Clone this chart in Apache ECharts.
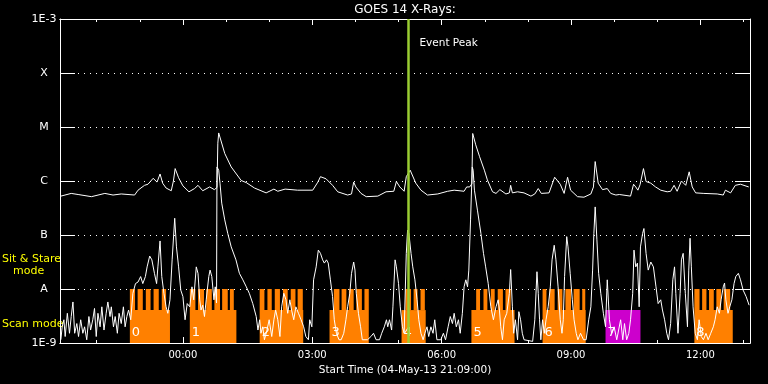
<!DOCTYPE html>
<html><head><meta charset="utf-8">
<script src="https://cdn.jsdelivr.net/npm/echarts@6/dist/echarts.min.js"></script>
<style>html,body{margin:0;padding:0;background:#000;}#c{width:768px;height:384px;}</style>
</head><body><div id="c"></div>
<script>
// ---------- data ----------
const titleText = 'GOES 14 X-Rays:';
const xAxisTitle = 'Start Time (04-May-13 21:09:00)';
const timeRange = [-2.85, 13.15];            // hours relative to 05-May-13 00:00
const majorHours = [0, 3, 6, 9, 12];
const majorLabels = ['00:00', '03:00', '06:00', '09:00', '12:00'];
const minorHours = [-2, -1, 1, 2, 4, 5, 7, 8, 10, 11, 13];
const fluxLevels = [-9, -8, -7, -6, -5, -4, -3];   // log10 of W/m^2
const fluxLabels = ['1E-9', 'A', 'B', 'C', 'M', 'X', '1E-3'];
const eventPeak = 5.23;
const eventLabel = 'Event Peak';
const modeLabels = ['Sit & Stare', 'mode', 'Scan mode'];

// GOES long channel (1-8 A): [hour, log10 flux]
const longFlux = [[-2.83,-6.28],[-2.59,-6.23],[-2.43,-6.25],[-2.12,-6.29],[-1.81,-6.23],[-1.62,-6.26],[-1.43,-6.24],[-1.12,-6.26],[-1.04,-6.17],[-0.89,-6.08],[-0.81,-6.06],[-0.69,-5.95],[-0.60,-6.02],[-0.53,-5.87],[-0.47,-6.04],[-0.39,-6.13],[-0.27,-6.18],[-0.22,-6.00],[-0.18,-5.77],[-0.10,-5.94],[0,-6.09],[0.14,-6.20],[0.27,-6.14],[0.35,-6.08],[0.46,-6.18],[0.62,-6.11],[0.73,-6.16],[0.79,-6.12],[0.81,-5.30],[0.83,-5.11],[0.86,-5.12],[0.97,-5.49],[1.12,-5.74],[1.35,-5.99],[1.47,-6.03],[1.66,-6.13],[1.93,-6.22],[2.11,-6.15],[2.20,-6.19],[2.37,-6.15],[2.66,-6.17],[3.01,-6.17],[3.13,-6.02],[3.19,-5.92],[3.32,-5.96],[3.47,-6.08],[3.59,-6.20],[3.82,-6.26],[3.91,-6.24],[3.96,-6.02],[4.01,-6.11],[4.13,-6.23],[4.25,-6.29],[4.52,-6.28],[4.71,-6.20],[4.89,-6.19],[4.95,-6.01],[5.03,-6.11],[5.13,-6.19],[5.18,-5.92],[5.27,-5.80],[5.40,-6.04],[5.52,-6.17],[5.67,-6.26],[5.91,-6.24],[6.14,-6.19],[6.29,-6.17],[6.52,-6.19],[6.58,-6.11],[6.65,-6.11],[6.70,-6.05],[6.72,-5.12],[6.76,-5.15],[6.79,-5.33],[6.88,-5.55],[6.99,-5.80],[7.06,-5.98],[7.18,-6.20],[7.26,-6.23],[7.35,-6.16],[7.49,-6.24],[7.57,-6.22],[7.60,-6.08],[7.64,-6.22],[7.76,-6.20],[7.91,-6.22],[8.07,-6.28],[8.16,-6.24],[8.24,-6.14],[8.31,-6.23],[8.49,-6.22],[8.62,-5.93],[8.75,-6.06],[8.84,-6.23],[8.92,-5.93],[8.99,-6.17],[9.15,-6.29],[9.30,-6.30],[9.46,-6.24],[9.52,-6.11],[9.56,-5.64],[9.63,-6.04],[9.73,-6.16],[9.84,-6.14],[9.92,-6.23],[10.04,-6.26],[10.12,-6.25],[10.38,-6.28],[10.45,-6.06],[10.50,-6.11],[10.55,-6.17],[10.60,-6.07],[10.63,-6.04],[10.68,-5.77],[10.74,-6.01],[10.85,-6.04],[10.96,-6.11],[11.08,-6.17],[11.23,-6.20],[11.31,-6.19],[11.39,-6.08],[11.46,-6.19],[11.56,-6.00],[11.66,-6.08],[11.74,-5.83],[11.81,-6.11],[11.89,-6.22],[12.08,-6.23],[12.39,-6.24],[12.53,-6.26],[12.58,-6.17],[12.70,-6.22],[12.81,-6.08],[12.93,-6.06],[13.12,-6.11]];

// GOES short channel (0.5-4 A): [hour, log10 flux]
const shortFlux = [[-2.83,-8.94],[-2.80,-8.70],[-2.76,-8.57],[-2.73,-8.88],[-2.68,-8.45],[-2.63,-8.82],[-2.59,-8.51],[-2.55,-8.24],[-2.51,-8.82],[-2.46,-8.64],[-2.42,-8.88],[-2.37,-8.57],[-2.32,-8.82],[-2.28,-8.70],[-2.23,-8.94],[-2.18,-8.51],[-2.14,-8.76],[-2.09,-8.57],[-2.05,-8.36],[-2.01,-8.88],[-1.97,-8.45],[-1.92,-8.70],[-1.88,-8.33],[-1.83,-8.76],[-1.78,-8.45],[-1.74,-8.24],[-1.69,-8.51],[-1.66,-8.33],[-1.61,-8.70],[-1.57,-8.51],[-1.52,-8.82],[-1.48,-8.45],[-1.43,-8.64],[-1.38,-8.33],[-1.34,-8.70],[-1.30,-8.51],[-1.26,-8.39],[-1.21,-8.57],[-1.16,-8.08],[-1.10,-7.90],[-1.04,-7.87],[-0.98,-7.77],[-0.93,-7.90],[-0.87,-7.77],[-0.83,-7.59],[-0.77,-7.39],[-0.72,-7.46],[-0.66,-7.71],[-0.61,-7.90],[-0.58,-7.59],[-0.53,-7.11],[-0.49,-7.77],[-0.44,-8.08],[-0.39,-8.33],[-0.35,-8.45],[-0.30,-8.20],[-0.25,-7.46],[-0.19,-6.69],[-0.15,-7.22],[-0.10,-7.59],[-0.05,-8.02],[0,-8.14],[0.05,-8.57],[0.10,-8.27],[0.16,-8.33],[0.21,-7.96],[0.25,-8.20],[0.31,-7.59],[0.35,-7.71],[0.39,-8.20],[0.42,-8.39],[0.46,-8.30],[0.50,-8.51],[0.54,-8.20],[0.60,-7.77],[0.63,-7.65],[0.67,-7.77],[0.72,-8.20],[0.75,-7.96],[0.78,-8.26],[0.79,-5.74],[0.83,-5.80],[0.86,-6.04],[0.90,-6.41],[0.97,-6.72],[1.04,-6.97],[1.12,-7.22],[1.23,-7.46],[1.31,-7.71],[1.39,-7.83],[1.47,-7.96],[1.54,-8.08],[1.62,-8.27],[1.70,-8.51],[1.74,-8.76],[1.78,-8.57],[1.81,-8.82],[1.85,-8.70],[1.89,-8.94],[1.95,-8.76],[2.00,-8.57],[2.06,-8.88],[2.11,-8.57],[2.15,-8.39],[2.20,-8.57],[2.25,-8.88],[2.29,-8.33],[2.34,-8.08],[2.39,-8.20],[2.43,-8.45],[2.48,-8.20],[2.52,-8.39],[2.57,-8.57],[2.62,-8.33],[2.68,-8.45],[2.74,-8.57],[2.80,-8.70],[2.85,-8.88],[2.91,-8.94],[2.94,-8.57],[2.99,-8.70],[3.03,-7.83],[3.09,-7.59],[3.14,-7.28],[3.19,-7.34],[3.24,-7.46],[3.28,-7.52],[3.33,-7.46],[3.37,-7.52],[3.42,-7.83],[3.47,-8.14],[3.51,-8.57],[3.56,-8.82],[3.62,-8.94],[3.67,-8.94],[3.73,-8.82],[3.78,-8.57],[3.82,-8.33],[3.87,-8.08],[3.91,-7.71],[3.96,-7.50],[3.99,-7.65],[4.02,-8.08],[4.07,-8.45],[4.12,-8.70],[4.16,-8.94],[4.28,-8.94],[4.36,-8.88],[4.42,-8.82],[4.48,-8.94],[4.56,-8.94],[4.61,-8.82],[4.67,-8.70],[4.72,-8.57],[4.75,-8.70],[4.79,-8.57],[4.84,-8.76],[4.87,-8.33],[4.92,-7.46],[4.95,-7.59],[5.00,-7.90],[5.04,-8.33],[5.09,-8.70],[5.13,-8.82],[5.18,-7.34],[5.21,-6.91],[5.24,-6.97],[5.29,-7.34],[5.33,-7.59],[5.38,-7.83],[5.43,-8.20],[5.47,-8.57],[5.52,-8.82],[5.57,-8.94],[5.61,-8.82],[5.66,-8.70],[5.70,-8.88],[5.75,-8.70],[5.80,-8.82],[5.84,-8.57],[5.89,-8.94],[5.98,-8.94],[6.04,-8.82],[6.09,-8.94],[6.15,-8.70],[6.20,-8.51],[6.25,-8.64],[6.29,-8.45],[6.34,-8.70],[6.39,-8.57],[6.43,-8.82],[6.48,-8.45],[6.52,-7.96],[6.56,-7.83],[6.60,-7.96],[6.63,-7.65],[6.67,-6.72],[6.71,-5.74],[6.73,-5.80],[6.76,-6.17],[6.83,-6.54],[6.91,-6.97],[6.97,-7.34],[7.02,-7.59],[7.08,-7.90],[7.14,-8.33],[7.20,-8.57],[7.26,-8.33],[7.31,-8.20],[7.34,-8.39],[7.37,-8.70],[7.41,-8.94],[7.45,-8.57],[7.51,-8.45],[7.57,-8.08],[7.60,-7.64],[7.64,-8.33],[7.67,-8.82],[7.71,-8.57],[7.76,-8.94],[7.79,-8.42],[7.83,-8.57],[7.87,-8.82],[7.91,-8.94],[8.11,-8.97],[8.16,-8.57],[8.21,-7.68],[8.24,-8.08],[8.27,-8.57],[8.30,-8.94],[8.34,-8.57],[8.38,-8.82],[8.42,-8.57],[8.47,-8.33],[8.52,-7.96],[8.56,-7.46],[8.61,-7.19],[8.65,-7.46],[8.70,-7.96],[8.75,-8.57],[8.79,-8.82],[8.82,-8.57],[8.85,-7.77],[8.90,-7.03],[8.93,-7.22],[8.98,-7.71],[9.03,-8.20],[9.07,-8.57],[9.12,-8.82],[9.16,-8.94],[9.22,-8.82],[9.29,-8.94],[9.35,-8.94],[9.41,-8.57],[9.46,-8.33],[9.50,-7.65],[9.53,-6.97],[9.56,-6.48],[9.60,-7.09],[9.64,-7.71],[9.69,-8.08],[9.75,-8.45],[9.80,-8.70],[9.84,-7.83],[9.89,-8.57],[9.94,-8.82],[10.00,-8.70],[10.06,-8.94],[10.15,-8.57],[10.20,-8.94],[10.24,-8.64],[10.29,-8.94],[10.34,-8.82],[10.38,-8.57],[10.43,-8.08],[10.46,-7.28],[10.50,-7.59],[10.54,-7.52],[10.58,-8.33],[10.61,-7.22],[10.66,-6.97],[10.69,-6.88],[10.74,-7.34],[10.79,-7.65],[10.85,-7.50],[10.91,-7.59],[10.97,-7.96],[11.02,-8.27],[11.08,-8.20],[11.12,-8.39],[11.17,-8.57],[11.22,-8.82],[11.26,-8.94],[11.31,-8.64],[11.36,-7.83],[11.40,-7.59],[11.43,-8.08],[11.48,-8.82],[11.53,-8.08],[11.56,-7.46],[11.60,-7.34],[11.65,-8.08],[11.70,-8.70],[11.73,-7.65],[11.76,-7.06],[11.79,-7.59],[11.83,-8.33],[11.88,-8.82],[11.93,-8.94],[11.97,-8.57],[12.02,-8.88],[12.07,-8.94],[12.13,-8.82],[12.18,-8.94],[12.24,-8.82],[12.30,-8.70],[12.34,-8.57],[12.39,-8.33],[12.44,-8.45],[12.48,-8.20],[12.53,-7.96],[12.56,-7.89],[12.59,-8.20],[12.64,-8.45],[12.68,-8.33],[12.73,-8.20],[12.78,-7.90],[12.82,-7.77],[12.88,-7.71],[12.93,-7.83],[12.99,-8.02],[13.06,-8.14],[13.13,-8.30]];

// observing blocks: [start hour, end hour]
const blockNames = ['0', '1', '2', '3', '4', '5', '6', '7', '8'];
const blockTypes = ['obs', 'obs', 'obs', 'obs', 'obs', 'obs', 'obs', 'other', 'obs'];
const blockSpans = [[-1.23,-0.30],[0.16,1.24],[1.78,2.79],[3.40,4.31],[5.07,5.63],[6.69,7.69],[8.34,9.34],[9.80,10.61],[11.86,12.75]];
const scanLevel = [-9, -8.39];
const stareLevel = [-8.39, -8];
const stareSpans = [
  [-1.23,-1.11],[-1.05,-0.93],[-0.86,-0.75],[-0.68,-0.56],[-0.49,-0.39],
  [0.16,0.29],[0.35,0.49],[0.54,0.67],[0.73,0.86],[0.91,1.04],[1.09,1.18],
  [1.78,1.89],[1.96,2.06],[2.13,2.25],[2.32,2.43],[2.50,2.61],[2.66,2.78],
  [3.50,3.63],[3.68,3.79],[3.85,3.96],[4.02,4.15],[4.21,4.31],
  [5.16,5.29],[5.35,5.44],[5.51,5.61],
  [6.80,6.89],[6.97,7.06],[7.14,7.23],[7.30,7.42],[7.48,7.60],
  [8.34,8.43],[8.50,8.62],[8.69,8.80],[8.87,9.00],[9.06,9.20],[9.26,9.33],
  [11.86,11.98],[12.04,12.14],[12.20,12.31],[12.37,12.48],[12.54,12.69]
];

// ---------- chart ----------
const FONT = '"DejaVu Sans", sans-serif';
const typeColor = { obs: '#ff8000', other: '#cc00cc' };
const chart = echarts.init(document.getElementById('c'), null, { renderer: 'canvas' });

function baseX(extra) {
  return Object.assign({
    type: 'value', min: timeRange[0], max: timeRange[1], gridIndex: 0,
    axisLine: { show: true, onZero: false, lineStyle: { color: '#fff', width: 1 } },
    splitLine: { show: false },
    axisLabel: { show: false },
    axisTick: { show: true, inside: true, length: 3, lineStyle: { color: '#fff' } }
  }, extra);
}
function baseY(extra) {
  return Object.assign({
    type: 'value', min: fluxLevels[0], max: fluxLevels[fluxLevels.length - 1], interval: 1,
    axisLine: { show: true, onZero: false, lineStyle: { color: '#fff', width: 1 } },
    axisTick: { show: true, inside: true, length: 15, lineStyle: { color: '#fff' } },
    splitLine: { show: false },
    axisLabel: { show: false }
  }, extra);
}

function rectItem(api, color) {
  const p1 = api.coord([api.value(0), api.value(3)]);
  const p2 = api.coord([api.value(1), api.value(2)]);
  return { type: 'rect', shape: { x: p1[0], y: p1[1], width: p2[0] - p1[0], height: p2[1] - p1[1] },
           style: { fill: color } };
}

const option = {
  backgroundColor: '#000',
  animation: false,
  textStyle: { fontFamily: FONT },
  grid: { left: 60, right: 18, top: 19, bottom: 41, containLabel: false },
  xAxis: [
    baseX({
      position: 'bottom',
      axisTick: { show: true, inside: true, length: 6, customValues: majorHours, lineStyle: { color: '#fff' } },
      axisLabel: { show: true, color: '#fff', fontSize: 10, fontFamily: FONT, margin: 7,
                   customValues: majorHours, formatter: v => majorLabels[majorHours.indexOf(v)] },
      name: xAxisTitle, nameLocation: 'middle', nameGap: 20,
      nameTextStyle: { color: '#fff', fontSize: 10.5, fontFamily: FONT }
    }),
    baseX({ position: 'bottom', axisTick: { show: true, inside: true, length: 3, customValues: minorHours, lineStyle: { color: '#fff' } } }),
    baseX({ position: 'top', axisTick: { show: true, inside: true, length: 6, customValues: majorHours, lineStyle: { color: '#fff' } } }),
    baseX({ position: 'top', axisTick: { show: true, inside: true, length: 3, customValues: minorHours, lineStyle: { color: '#fff' } } })
  ],
  yAxis: [
    baseY({
      position: 'left',
      splitLine: { show: true, showMinLine: false, showMaxLine: false, lineStyle: { color: '#fff', type: [1, 5], width: 1 } },
      axisLabel: { show: true, color: '#fff', fontSize: 11, fontFamily: FONT, align: 'center', margin: 16,
                   formatter: v => fluxLabels[fluxLevels.indexOf(v)] }
    }),
    baseY({ position: 'right' })
  ],
  series: [
    {
      type: 'custom', name: 'scan', z: 1, clip: true,
      data: blockSpans.map((s, i) => [s[0], s[1], scanLevel[0], scanLevel[1], i]),
      encode: { x: [0, 1], y: [2, 3] },
      renderItem: (params, api) => {
        const i = api.value(4);
        const r = rectItem(api, typeColor[blockTypes[i]]);
        const base = api.coord([api.value(0), api.value(2)]);
        return { type: 'group', children: [r, {
          type: 'text', x: base[0] + 2, y: base[1] - 4,
          style: { text: blockNames[i], fill: '#fff', font: '13px ' + FONT, textVerticalAlign: 'bottom', textAlign: 'left' }
        }] };
      }
    },
    {
      type: 'custom', name: 'stare', z: 1, clip: true,
      data: stareSpans.map(s => [s[0], s[1], stareLevel[0], stareLevel[1]]),
      encode: { x: [0, 1], y: [2, 3] },
      renderItem: (params, api) => rectItem(api, '#ff8000')
    },
    {
      type: 'line', name: 'long', data: longFlux, showSymbol: false, symbol: 'none', z: 3,
      lineStyle: { color: '#fff', width: 1 }, clip: true
    },
    {
      type: 'line', name: 'short', data: shortFlux, showSymbol: false, symbol: 'none', z: 3,
      lineStyle: { color: '#fff', width: 1 }, clip: true,
      markLine: {
        silent: true, symbol: ['none', 'none'], z: 5,
        label: { show: false },
        lineStyle: { color: '#9acd32', width: 2.5, type: 'solid' },
        data: [{ xAxis: eventPeak }]
      }
    }
  ]
};
chart.setOption(option);

const peakTop = chart.convertToPixel({ xAxisIndex: 0, yAxisIndex: 0 }, [eventPeak, fluxLevels[fluxLevels.length - 1]]);
const plotCenter = chart.convertToPixel({ xAxisIndex: 0 }, (timeRange[0] + timeRange[1]) / 2);
const yPix = v => chart.convertToPixel({ yAxisIndex: 0 }, v);
chart.setOption({
  graphic: [
    { type: 'text', x: plotCenter, y: 10, style: { text: titleText, fill: '#fff', font: '12px ' + FONT, textAlign: 'center', textVerticalAlign: 'middle' } },
    { type: 'text', x: peakTop[0] + 11, y: peakTop[1] + 24, style: { text: eventLabel, fill: '#fff', font: '10.5px ' + FONT, textAlign: 'left', textVerticalAlign: 'middle' } },
    { type: 'text', x: 2, y: yPix(-7.44), style: { text: modeLabels[0], fill: '#ffff00', font: '11px ' + FONT, textAlign: 'left', textVerticalAlign: 'middle' } },
    { type: 'text', x: 13, y: yPix(-7.67), style: { text: modeLabels[1], fill: '#ffff00', font: '11px ' + FONT, textAlign: 'left', textVerticalAlign: 'middle' } },
    { type: 'text', x: 2, y: yPix(-8.65), style: { text: modeLabels[2], fill: '#ffff00', font: '11px ' + FONT, textAlign: 'left', textVerticalAlign: 'middle' } }
  ]
});
</script>
</body></html>
